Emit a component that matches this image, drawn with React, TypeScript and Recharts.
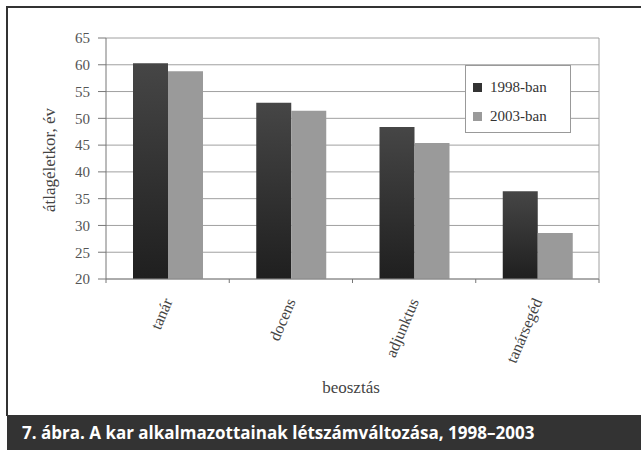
import { BarChart, Bar, XAxis, YAxis, CartesianGrid, Legend } from 'recharts';

const categories = ['tanár', 'docens', 'adjunktus', 'tanársegéd'];
const values1998 = [60.3, 52.9, 48.4, 36.4];
const values2003 = [58.8, 51.4, 45.4, 28.6];
const seriesNames = ['1998-ban', '2003-ban'];
const yTicks = [20, 25, 30, 35, 40, 45, 50, 55, 60, 65];

const data = categories.map((name, i) => ({
  name,
  y1998: values1998[i],
  y2003: values2003[i],
}));

const CHART_W = 641;
const CHART_H = 415;
const MARGIN = { top: 38, right: 42, left: 46, bottom: 36 };
const Y_AXIS_W = 60;
const BAND = (CHART_W - MARGIN.left - Y_AXIS_W - MARGIN.right) / categories.length;

const serif = '"Liberation Serif", "DejaVu Serif", serif';

function XTick(props: any) {
  const { x, y, payload, index } = props;
  const tx = x;
  const ty = y + 20;
  return (
    <g>
      <line x1={x - BAND / 2} x2={x - BAND / 2} y1={y} y2={y + 4} stroke="#777" />
      {index === categories.length - 1 && (
        <line x1={x + BAND / 2} x2={x + BAND / 2} y1={y} y2={y + 4} stroke="#777" />
      )}
      <text
        x={tx}
        y={ty}
        dy="0.35em"
        transform={`rotate(-67 ${tx} ${ty})`}
        textAnchor="end"
        fontFamily={serif}
        fontSize={16}
        fill="#444"
      >
        {payload.value}
      </text>
    </g>
  );
}

function LegendBox() {
  const colors = ['#333', '#9a9a9a'];
  return (
    <div
      style={{
        border: '1px solid #999',
        background: '#fff',
        height: 68,
        boxSizing: 'border-box',
        paddingTop: 7,
        paddingLeft: 7,
      }}
    >
      {seriesNames.map((s, i) => (
        <div key={s} style={{ display: 'flex', alignItems: 'center', height: 29 }}>
          <span style={{ width: 9, height: 9, background: colors[i], marginRight: 8 }} />
          <span style={{ fontFamily: serif, fontSize: 15, color: '#333' }}>{s}</span>
        </div>
      ))}
    </div>
  );
}

export default function App() {
  return (
    <div
      style={{
        position: 'absolute',
        left: 0,
        top: 0,
        width: 641,
        height: 450,
        background: '#fff',
        overflow: 'hidden',
      }}
    >
      <div style={{ position: 'absolute', left: 0, top: 0 }}>
        <BarChart width={CHART_W} height={CHART_H} data={data} margin={MARGIN} barGap={0} barSize={35}>
          <defs>
            <linearGradient id="dark" x1="0" y1="0" x2="0" y2="1">
              <stop offset="0%" stopColor="#464646" />
              <stop offset="100%" stopColor="#1f1f1f" />
            </linearGradient>
          </defs>
          <CartesianGrid
            stroke="#a0a0a0"
            vertical={true}
            verticalCoordinatesGenerator={({ offset }: any) => [offset.left + offset.width]}
          />
          <XAxis
            dataKey="name"
            height={100}
            interval={0}
            tickSize={0}
            tickMargin={0}
            tickLine={false}
            axisLine={{ stroke: '#888' }}
            tick={<XTick />}
          />
          <YAxis
            width={Y_AXIS_W}
            domain={[20, 65]}
            ticks={yTicks}
            interval={0}
            tickSize={8}
            tickMargin={8}
            axisLine={{ stroke: '#777' }}
            tickLine={{ stroke: '#777' }}
            tick={{ fontFamily: serif, fontSize: 15, fill: '#555' }}
          />
          <Legend
            layout="vertical"
            align="center"
            verticalAlign="middle"
            wrapperStyle={{ left: 465, top: 65, width: 106 }}
            content={() => <LegendBox />}
          />
          <Bar dataKey="y1998" name={seriesNames[0]} fill="url(#dark)" isAnimationActive={false} />
          <Bar dataKey="y2003" name={seriesNames[1]} fill="#9a9a9a" isAnimationActive={false} />
        </BarChart>
      </div>

      <div style={{ position: 'absolute', left: 6, top: 6, width: 635, height: 2, background: '#333' }} />
      <div style={{ position: 'absolute', left: 6, top: 6, width: 2, height: 410, background: '#333' }} />

      <div
        style={{
          position: 'absolute',
          left: 50,
          top: 160,
          transform: 'translate(-50%, -50%) rotate(-90deg)',
          whiteSpace: 'nowrap',
          fontFamily: serif,
          fontSize: 17,
          color: '#444',
        }}
      >
        átlagéletkor, év
      </div>
      <div
        style={{
          position: 'absolute',
          left: 351,
          top: 388,
          transform: 'translate(-50%, -50%)',
          whiteSpace: 'nowrap',
          fontFamily: serif,
          fontSize: 17,
          color: '#444',
        }}
      >
        beosztás
      </div>

      <div
        style={{
          position: 'absolute',
          left: 7,
          top: 415,
          width: 634,
          height: 35,
          background: '#333',
          color: '#fff',
          fontFamily: '"Open Sans", "DejaVu Sans", sans-serif',
          fontWeight: 700,
          fontSize: 17,
          lineHeight: '35px',
          paddingLeft: 15,
          boxSizing: 'border-box',
          whiteSpace: 'nowrap',
        }}
      >
        7. ábra. A kar alkalmazottainak létszámváltozása, 1998–2003
      </div>
    </div>
  );
}
